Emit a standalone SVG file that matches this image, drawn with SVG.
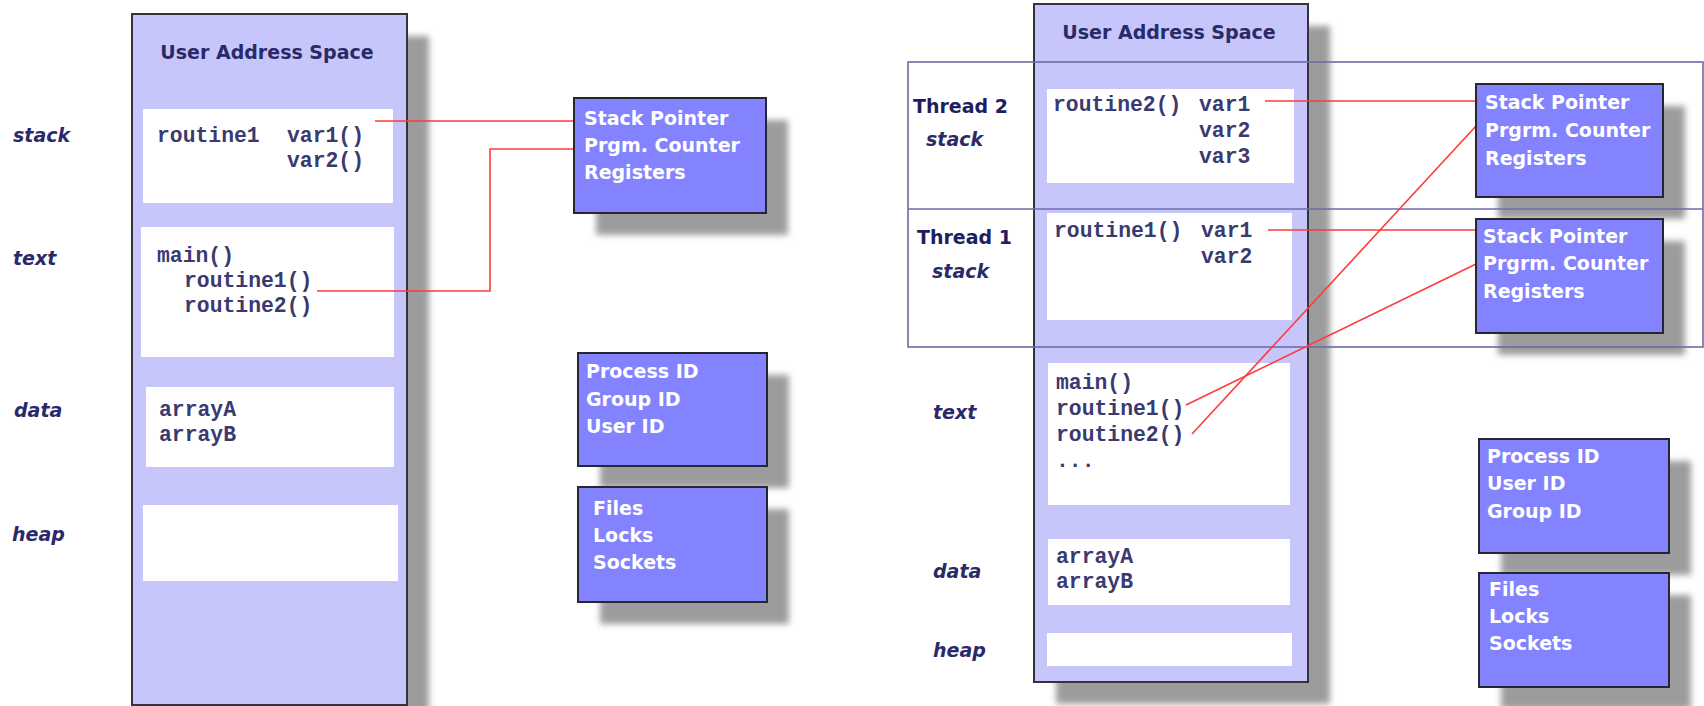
<svg xmlns="http://www.w3.org/2000/svg" width="1704" height="706" viewBox="0 0 1704 706">
<defs>
<filter id="blur" x="-20%" y="-20%" width="140%" height="140%"><feGaussianBlur stdDeviation="3"/></filter>
<style>
.shadow{fill:#9c9c9c;filter:url(#blur)}
.space{fill:#c6c6fa;stroke:#333340;stroke-width:2}
.seg{fill:#ffffff}
.info{fill:#8383ff;stroke:#262630;stroke-width:2}
.title{font-family:"DejaVu Sans",Verdana,sans-serif;font-weight:bold;font-size:19px;fill:#2a2a6a}
.lbl{font-family:"DejaVu Sans",Verdana,sans-serif;font-weight:bold;font-style:italic;font-size:19px;fill:#2a2a6a}
.thr{font-family:"DejaVu Sans",Verdana,sans-serif;font-weight:bold;font-size:19px;fill:#1e1e60}
.mono{font-family:"Liberation Mono","Courier New",monospace;font-weight:bold;font-size:21.4px;fill:#3a3a70}
.w{font-family:"DejaVu Sans",Verdana,sans-serif;font-weight:bold;font-size:19px;fill:#ffffff}
.red{fill:none;stroke:#ff3a3a;stroke-width:1.6}
.tline{fill:none;stroke:#6c6ca8;stroke-width:1.6}
</style>
</defs>
<rect width="1704" height="706" fill="#ffffff"/>

<g id="shadows">
<rect class="shadow" x="154" y="36" width="275" height="691"/>
<rect class="shadow" x="596" y="120" width="192" height="115"/>
<rect class="shadow" x="600" y="375" width="189" height="113"/>
<rect class="shadow" x="600" y="509" width="189" height="115"/>
<rect class="shadow" x="1056" y="26" width="274" height="678"/>
<rect class="shadow" x="1498" y="106" width="187" height="113"/>
<rect class="shadow" x="1498" y="241" width="187" height="114"/>
<rect class="shadow" x="1501" y="461" width="190" height="114"/>
<rect class="shadow" x="1501" y="595" width="190" height="114"/>
</g>

<g id="left-space">
<rect class="space" x="132" y="14" width="275" height="691"/>
<text class="title" x="267" y="59" text-anchor="middle">User Address Space</text>
</g>
<g id="left-stack">
<rect class="seg" x="143" y="109" width="250" height="94"/>
<text class="lbl" x="13" y="142">stack</text>
<text class="mono" x="157" y="142">routine1</text>
<text class="mono" x="287" y="142">var1()</text>
<text class="mono" x="287" y="167">var2()</text>
</g>
<g id="left-text">
<rect class="seg" x="141" y="227" width="253" height="130"/>
<text class="lbl" x="13" y="265">text</text>
<text class="mono" x="157" y="262">main()</text>
<text class="mono" x="184" y="287">routine1()</text>
<text class="mono" x="184" y="312">routine2()</text>
</g>
<g id="left-data">
<rect class="seg" x="146" y="387" width="248" height="80"/>
<text class="lbl" x="14" y="417">data</text>
<text class="mono" x="159" y="416">arrayA</text>
<text class="mono" x="159" y="441">arrayB</text>
</g>
<g id="left-heap">
<rect class="seg" x="143" y="505" width="255" height="76"/>
<text class="lbl" x="12" y="541">heap</text>
</g>

<g id="right-space">
<rect class="space" x="1034" y="4" width="274" height="678"/>
<text class="title" x="1169" y="39" text-anchor="middle">User Address Space</text>
</g>
<g id="right-t2stack">
<rect class="seg" x="1047" y="89" width="247" height="94"/>
<text class="thr" x="913" y="113">Thread 2</text>
<text class="lbl" x="926" y="146">stack</text>
<text class="mono" x="1053" y="111">routine2()</text>
<text class="mono" x="1199" y="111">var1</text>
<text class="mono" x="1199" y="137">var2</text>
<text class="mono" x="1199" y="163">var3</text>
</g>
<g id="right-t1stack">
<rect class="seg" x="1047" y="213" width="245" height="107"/>
<text class="thr" x="917" y="244">Thread 1</text>
<text class="lbl" x="932" y="278">stack</text>
<text class="mono" x="1054" y="237">routine1()</text>
<text class="mono" x="1201" y="237">var1</text>
<text class="mono" x="1201" y="263">var2</text>
</g>
<g id="right-text">
<rect class="seg" x="1048" y="363" width="242" height="142"/>
<text class="lbl" x="933" y="419">text</text>
<text class="mono" x="1056" y="389">main()</text>
<text class="mono" x="1056" y="415">routine1()</text>
<text class="mono" x="1056" y="441">routine2()</text>
<text class="mono" x="1056" y="467">...</text>
</g>
<g id="right-data">
<rect class="seg" x="1048" y="539" width="242" height="66"/>
<text class="lbl" x="933" y="578">data</text>
<text class="mono" x="1056" y="563">arrayA</text>
<text class="mono" x="1056" y="588">arrayB</text>
</g>
<g id="right-heap">
<rect class="seg" x="1047" y="633" width="245" height="33"/>
<text class="lbl" x="933" y="657">heap</text>
</g>
<g id="threads">
<rect class="tline" x="908" y="62" width="795" height="285"/>
<line class="tline" x1="908" y1="209" x2="1703" y2="209"/>
</g>

<g id="connectors">
<path class="red" d="M375 121 H574"/>
<path class="red" d="M317 291 H490 V149 H574"/>
<path class="red" d="M1265 101 H1476"/>
<path class="red" d="M1268 230 H1476"/>
<path class="red" d="M1186 405 L1476 264"/>
<path class="red" d="M1192 434 L1476 126"/>
</g>

<g id="left-regs">
<rect class="info" x="574" y="98" width="192" height="115"/>
<text class="w" x="584" y="125">Stack Pointer</text>
<text class="w" x="584" y="152">Prgm. Counter</text>
<text class="w" x="584" y="179">Registers</text>
</g>
<g id="left-ids">
<rect class="info" x="578" y="353" width="189" height="113"/>
<text class="w" x="586" y="378">Process ID</text>
<text class="w" x="586" y="406">Group ID</text>
<text class="w" x="586" y="433">User ID</text>
</g>
<g id="left-files">
<rect class="info" x="578" y="487" width="189" height="115"/>
<text class="w" x="593" y="515">Files</text>
<text class="w" x="593" y="542">Locks</text>
<text class="w" x="593" y="569">Sockets</text>
</g>
<g id="right-regs2">
<rect class="info" x="1476" y="84" width="187" height="113"/>
<text class="w" x="1485" y="109">Stack Pointer</text>
<text class="w" x="1485" y="137">Prgrm. Counter</text>
<text class="w" x="1485" y="165">Registers</text>
</g>
<g id="right-regs1">
<rect class="info" x="1476" y="219" width="187" height="114"/>
<text class="w" x="1483" y="243">Stack Pointer</text>
<text class="w" x="1483" y="270">Prgrm. Counter</text>
<text class="w" x="1483" y="298">Registers</text>
</g>
<g id="right-ids">
<rect class="info" x="1479" y="439" width="190" height="114"/>
<text class="w" x="1487" y="463">Process ID</text>
<text class="w" x="1487" y="490">User ID</text>
<text class="w" x="1487" y="518">Group ID</text>
</g>
<g id="right-files">
<rect class="info" x="1479" y="573" width="190" height="114"/>
<text class="w" x="1489" y="596">Files</text>
<text class="w" x="1489" y="623">Locks</text>
<text class="w" x="1489" y="650">Sockets</text>
</g>
</svg>
